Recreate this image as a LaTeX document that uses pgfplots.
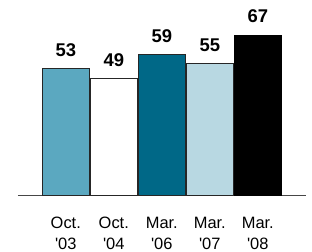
\documentclass[border=0pt]{standalone}
\usepackage{pgfplots}
\pgfplotsset{compat=1.18}
\usepackage{fontspec}
\setmainfont{Liberation Sans}
\definecolor{c1}{RGB}{91,168,192}
\definecolor{c3}{RGB}{0,104,135}
\definecolor{c4}{RGB}{184,216,226}
\definecolor{axgray}{RGB}{70,70,70}
\begin{document}
\begin{tikzpicture}
\begin{axis}[
  at={(0,0)}, anchor=origin,
  x=48bp, y=2.4bp,
  xmin=-1, xmax=5, ymin=0, ymax=81.5,
  ybar, bar width=47bp, /pgf/bar shift=0pt,
  axis x line=bottom, axis y line=none,
  x axis line style={-, axgray, line width=0.9bp},
  xtick={0,1,2,3,4},
  xticklabels={{Oct.\\\textquotesingle03},{Oct.\\\textquotesingle04},{Mar.\\\textquotesingle06},{Mar.\\\textquotesingle07},{Mar.\\\textquotesingle08}},
  major tick length=0pt,
  xticklabel style={font=\fontsize{16.5}{21.5}\selectfont, align=center, anchor=north, inner sep=0pt, yshift=-21bp},
  /pgf/number format/assume math mode=true,
  nodes near coords,
  every node near coord/.append style={font=\fontsize{18.5}{20}\selectfont\bfseries, anchor=base, inner sep=0pt, yshift=12bp, black},
  clip=false,
]
\coordinate (o) at (axis cs:0,0);
\addplot[fill=c1, draw=black!85, line width=0.8bp] coordinates {(0,53)};
\addplot[fill=white, draw=black!85, line width=0.8bp] coordinates {(1,49)};
\addplot[fill=c3, draw=black!85, line width=0.8bp] coordinates {(2,59)};
\addplot[fill=c4, draw=black!85, line width=0.8bp] coordinates {(3,55)};
\addplot[fill=black, draw=black, line width=0.8bp] coordinates {(4,67)};
\end{axis}
\pgfresetboundingbox
\useasboundingbox ([shift={(-65.8bp,-56.3bp)}]o) rectangle ([shift={(246.2bp,195.7bp)}]o);
\end{tikzpicture}
\end{document}
